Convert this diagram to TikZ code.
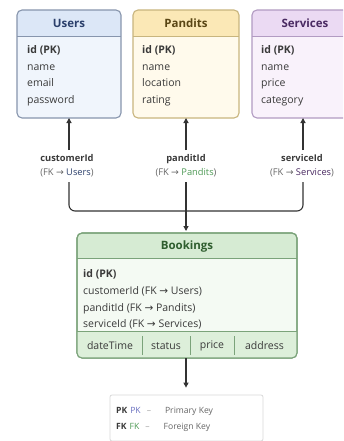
\documentclass[tikz,border=0pt]{standalone}
\usepackage{fontspec}
\setmainfont{Open Sans}
\newfontfamily\symfont{DejaVu Sans}
\usetikzlibrary{arrows.meta}
\definecolor{uhead}{HTML}{DCE7F7}
\definecolor{ubody}{HTML}{F0F5FC}
\definecolor{ubord}{HTML}{8795AD}
\definecolor{utitle}{HTML}{2B3F6B}
\definecolor{phead}{HTML}{FBE8B6}
\definecolor{pbody}{HTML}{FFFAEC}
\definecolor{pbord}{HTML}{C8B57E}
\definecolor{ptitle}{HTML}{5A4614}
\definecolor{shead}{HTML}{EBDAF3}
\definecolor{sbody}{HTML}{F9F2FB}
\definecolor{sbord}{HTML}{B29BC2}
\definecolor{stitle}{HTML}{4A2A62}
\definecolor{bhead}{HTML}{D6EBD3}
\definecolor{bbody}{HTML}{F4FAF3}
\definecolor{brow}{HTML}{DDEFDA}
\definecolor{bbord}{HTML}{7BA37A}
\definecolor{btitle}{HTML}{2F5E2F}
\definecolor{txt}{HTML}{3A3A3A}
\definecolor{gtxt}{HTML}{666666}
\definecolor{conn}{HTML}{333333}
\definecolor{pkc}{HTML}{6A70C0}
\definecolor{fkc}{HTML}{4E9A55}
\newcommand\entitybox[7]{%
  \node[minimum width=#4pt, minimum height=#5pt, inner sep=0pt, outer sep=0pt,
        rounded corners=5pt, fill=#6body] (#1) at (#2,#3) {};
  \begin{scope}
    \clip[rounded corners=5pt] (#1.north west) rectangle (#1.south east);
    \fill[#6head] (#1.north west) rectangle ([yshift=-#7pt]#1.north east);
  \end{scope}
  \draw[#6bord, line width=0.8pt] ([yshift=-#7pt]#1.north west) -- ([yshift=-#7pt]#1.north east);
  \draw[#6bord, line width=1.1pt, rounded corners=5pt] (#1.north west) rectangle (#1.south east);
}
\begin{document}
\begin{tikzpicture}[x=1pt,y=-1pt,
  title/.style={font=\fontsize{11.5}{13}\selectfont\bfseries, inner sep=0pt},
  field/.style={font=\fontsize{10.5}{12}\selectfont, text=txt, inner sep=0pt, anchor=base west},
  keyfield/.style={field, font=\fontsize{10.5}{12}\selectfont\bfseries},
  lab/.style={align=center, inner sep=1pt, font=\fontsize{9.3}{15}\selectfont, text=txt},
  cell/.style={font=\fontsize{10.5}{12}\selectfont, text=txt, inner sep=0pt},
  line/.style={draw=conn, line width=1.1pt},
  arr/.style={line, -{Triangle[length=5pt,width=5pt]}},
  legtxt/.style={font=\fontsize{8.6}{10}\selectfont, text=gtxt, inner sep=0pt, anchor=base west}]
\clip (0,0) rectangle (343,441);
\fill[white] (0,0) rectangle (343,441);

% Users
\entitybox{users}{69}{64}{104}{108}{u}{26}
\node[title, text=utitle] (usersT) at (69,23.5) {Users};
\node[keyfield] (u1) at (27,54) {id (PK)};
\node[field] (u2) at (27,70.5) {name};
\node[field] (u3) at (27,87) {email};
\node[field] (u4) at (27,103.5) {password};

% Pandits
\entitybox{pandits}{186}{64}{106}{108}{p}{26}
\node[title, text=ptitle] (panditsT) at (186,23.5) {Pandits};
\node[keyfield] (p1) at (142,54) {id (PK)};
\node[field] (p2) at (142,70.5) {name};
\node[field] (p3) at (142,87) {location};
\node[field] (p4) at (142,103.5) {rating};

% Services
\entitybox{services}{303.5}{64}{103}{108}{s}{26}
\node[title, text=stitle] (servicesT) at (305,23.5) {Services};
\node[keyfield] (s1) at (261,54) {id (PK)};
\node[field] (s2) at (261,70.5) {name};
\node[field] (s3) at (261,87) {price};
\node[field] (s4) at (261,103.5) {category};

% FK labels
\node[lab] (lu) at (67,165.5) {\textbf{customerId}\\[-1pt]\textcolor{gtxt}{(FK {\symfont→} \textcolor{utitle}{Users})}};
\node[lab] (lp) at (186,165.5) {\textbf{panditId}\\[-1pt]\textcolor{gtxt}{(FK {\symfont→} \textcolor{fkc}{Pandits})}};
\node[lab] (ls) at (302,165.5) {\textbf{serviceId}\\[-1pt]\textcolor{gtxt}{(FK {\symfont→} \textcolor{stitle}{Services})}};

\coordinate (au) at (69,150); \coordinate (ap) at (186,150); \coordinate (as) at (303,150);
\draw[arr] (au) -- (au |- users.south);
\draw[arr] (ap) -- (ap |- pandits.south);
\draw[arr] (as) -- (as |- services.south);

% Bookings
\entitybox{bookings}{187}{295.5}{220}{125}{b}{25}
\begin{scope}
  \clip[rounded corners=5pt] (bookings.north west) rectangle (bookings.south east);
  \fill[brow] ([yshift=27pt]bookings.south west) rectangle (bookings.south east);
\end{scope}
\draw[bbord, line width=0.8pt] ([yshift=27pt]bookings.south west) -- ([yshift=27pt]bookings.south east);
\draw[bbord, line width=1.1pt, rounded corners=5pt] (bookings.north west) rectangle (bookings.south east);
\node[title, text=btitle] (bookingsT) at (187,246.5) {Bookings};
\node[keyfield] (b1) at (83,277) {id (PK)};
\node[field] (b2) at (83,294.5) {customerId (FK {\symfont→} Users)};
\node[field] (b3) at (83,311) {panditId (FK {\symfont→} Pandits)};
\node[field] (b4) at (83,327.5) {serviceId (FK {\symfont→} Services)};
\node[cell] (c1) at (110,346) {dateTime};
\node[cell] (c2) at (166,346) {status};
\node[cell] (c3) at (212,346) {price};
\node[cell] (c4) at (264.5,346) {address};
\coordinate (d1t) at (142,336); \coordinate (d1b) at (142,355);
\coordinate (d2t) at (190,336); \coordinate (d2b) at (190,355);
\coordinate (d3t) at (234,336); \coordinate (d3b) at (234,355);
\draw[bbord, line width=0.7pt] (d1t) -- (d1b) (d2t) -- (d2b) (d3t) -- (d3b);

% connectors to Bookings
\coordinate (bu) at (69,182); \coordinate (bp) at (186,182); \coordinate (bs) at (303,182);
\coordinate (junction) at (186,211);
\draw[line, rounded corners=6pt] (bu) |- (junction) -| (bs);
\draw[arr, shorten >=2pt] (bp) -- (bp |- bookings.north);

% Legend
\node[draw=black!15, line width=0.8pt, fill=white, rounded corners=2pt,
      minimum width=153pt, minimum height=46pt, inner sep=0pt] (legend) at (186.5,418) {};
\draw[arr, shorten >=7pt] (bookings.south -| bp) -- (bp |- legend.north);
\node[legtxt] (leg1) at (116,413.5) {\textbf{\textcolor{txt}{PK}}\hspace{3pt}\textcolor{pkc}{PK}\hspace{6pt}\textcolor{black!35}{–}\hspace{14pt}Primary Key};
\node[legtxt] (leg2) at (116,429) {\textbf{\textcolor{txt}{FK}}\hspace{3pt}\textcolor{fkc}{FK}\hspace{6pt}\textcolor{black!35}{–}\hspace{14pt}Foreign Key};
\end{tikzpicture}
\end{document}
